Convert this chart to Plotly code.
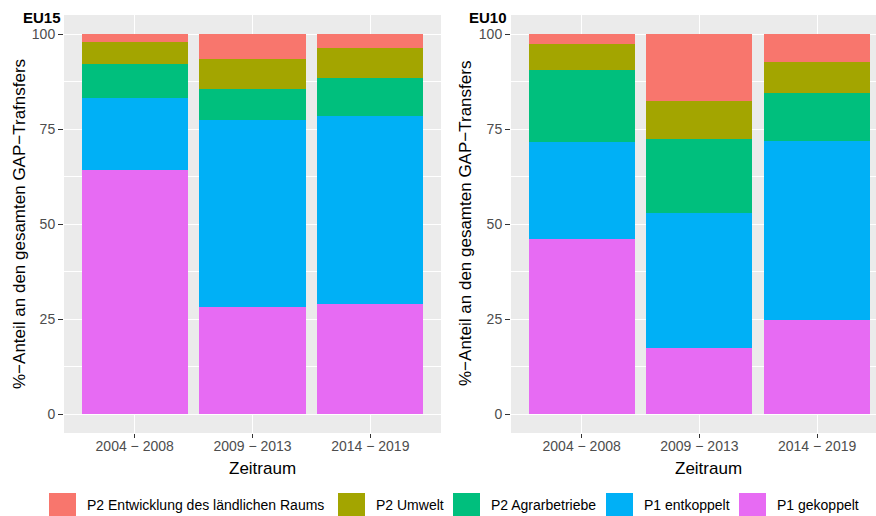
import plotly.graph_objects as go

# data (% share of total CAP transfers)
periods = ['2004 − 2008', '2009 − 2013', '2014 − 2019']
series = ['P2 Entwicklung des ländlichen Raums', 'P2 Umwelt', 'P2 Agrarbetriebe',
          'P1 entkoppelt', 'P1 gekoppelt']
colors = ['#F8766D', '#A3A500', '#00BF7D', '#00B0F6', '#E76BF3']

eu15_entwicklung = [2.2, 6.5, 3.6]
eu15_umwelt = [5.8, 7.9, 7.9]
eu15_agrar = [8.8, 8.2, 10.0]
eu15_entkoppelt = [18.9, 49.3, 49.6]
eu15_gekoppelt = [64.3, 28.1, 28.9]

eu10_entwicklung = [2.6, 17.6, 7.4]
eu10_umwelt = [6.8, 9.9, 8.1]
eu10_agrar = [19.0, 19.6, 12.6]
eu10_entkoppelt = [25.6, 35.6, 47.2]
eu10_gekoppelt = [46.0, 17.3, 24.7]

eu15 = [eu15_entwicklung, eu15_umwelt, eu15_agrar, eu15_entkoppelt, eu15_gekoppelt]
eu10 = [eu10_entwicklung, eu10_umwelt, eu10_agrar, eu10_entkoppelt, eu10_gekoppelt]

FONT = 'Liberation Sans, Arial, Helvetica, sans-serif'
W, H = 876, 516
L, R, T, B = 64, 0, 15, 83


def px_x(px):
    return (px - L) / (W - L - R)


def px_y(py):
    return (H - B - py) / (H - T - B)


fig = go.Figure()
# ggplot stacks the first level on top -> add in reverse
for panel, (xa, ya) in [(eu15, ('x', 'y')), (eu10, ('x2', 'y2'))]:
    for name, vals, col in reversed(list(zip(series, panel, colors))):
        fig.add_trace(go.Bar(x=periods, y=vals, name=name, marker_color=col,
                             marker_line_width=0, width=0.9, xaxis=xa, yaxis=ya,
                             showlegend=False))

xcommon = dict(showgrid=True, gridcolor='white', gridwidth=1.1, ticks='outside',
               ticklen=4, tickcolor='#333333', tickwidth=1, ticklabelstandoff=-4,
               tickfont=dict(size=14, color='#4D4D4D'), zeroline=False,
               showline=False, fixedrange=True)
ycommon = dict(range=[-5, 105], tick0=0, dtick=25, showgrid=True, gridcolor='white',
               gridwidth=1.1, ticks='outside', ticklen=5, tickcolor='#333333',
               tickwidth=1, tickfont=dict(size=14, color='#4D4D4D'), zeroline=False,
               showline=False,
               minor=dict(dtick=12.5, tick0=0, showgrid=True, gridcolor='white',
                          gridwidth=0.5))

fig.update_layout(
    width=W, height=H,
    margin=dict(l=L, r=R, t=T, b=B, pad=0),
    paper_bgcolor='white', plot_bgcolor='#EBEBEB',
    font=dict(family=FONT, color='black'),
    barmode='stack', bargap=0.1,
    xaxis=dict(domain=[0, px_x(441)], range=[-0.6, 2.6], anchor='y', **xcommon),
    xaxis2=dict(domain=[px_x(511), 1], range=[-0.6, 2.5], anchor='y2', **xcommon),
    yaxis=dict(domain=[0, 1], anchor='x', **ycommon),
    yaxis2=dict(domain=[0, 1], anchor='x2', **ycommon),
    showlegend=False,
)

ann = [
    dict(text='<b>EU15</b>', x=px_x(63), y=px_y(18), xanchor='right', font_size=15),
    dict(text='<b>EU10</b>', x=px_x(509), y=px_y(18), xanchor='right', font_size=15),
    dict(text='%−Anteil an den gesamten GAP−Trafnsfers', x=px_x(19), y=px_y(224),
         textangle=-90, font_size=17),
    dict(text='%−Anteil an den gesamten GAP−Transfers', x=px_x(465), y=px_y(224),
         textangle=-90, font_size=17),
    dict(text='Zeitraum', x=px_x(262), y=px_y(468), font_size=17),
    dict(text='Zeitraum', x=px_x(708), y=px_y(468), font_size=17),
]
for a in ann:
    a.setdefault('xanchor', 'center')
    fig.add_annotation(xref='paper', yref='paper', yanchor='middle', showarrow=False, **a)

# legend drawn like ggplot's bottom guide: wide colour keys + labels
key_left = [49, 338, 453, 606, 739]
for name, col, kx in zip(series, colors, key_left):
    fig.add_shape(type='rect', xref='paper', yref='paper',
                  x0=px_x(kx), x1=px_x(kx + 27), y0=px_y(520), y1=px_y(493),
                  fillcolor=col, line_width=0)
    fig.add_annotation(text=name, xref='paper', yref='paper', x=px_x(kx + 36),
                       y=px_y(505), xanchor='left', yanchor='middle', showarrow=False,
                       font=dict(size=14, color='black'))

# drop the page's default 8px body margin so the figure sits at the window origin
fig.write_html('out.html', config={'displayModeBar': False},
               post_script="document.body.style.margin='0';")
